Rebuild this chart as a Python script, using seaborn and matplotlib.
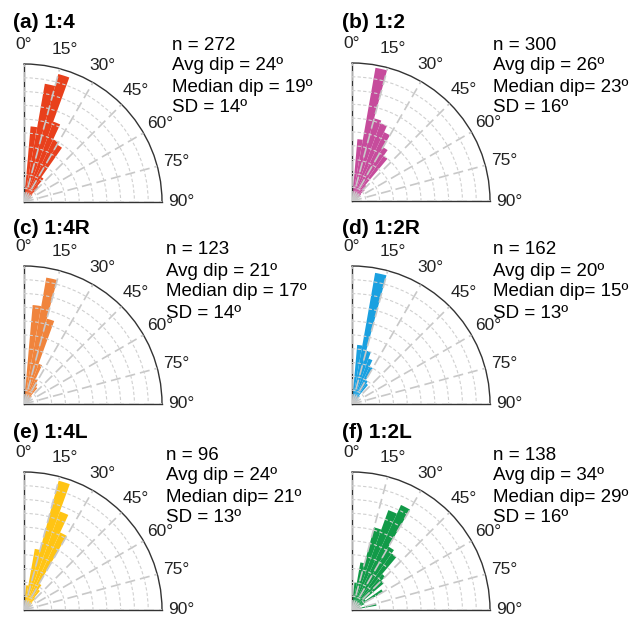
import numpy as np
import matplotlib
matplotlib.use("Agg")
import matplotlib.pyplot as plt
import seaborn as sns

# 5-degree dip bins (start of each bin)
dip_bins = np.arange(0, 90, 5)

# relative bar length per bin (outer arc = 1)
radii_a = [0.12, 0.55, 0.87, 0.96, 0.62, 0.50, 0.48, 0.22, 0.15, 0.08, 0.06, 0.05, 0.04, 0.04, 0.03, 0.03, 0.02, 0.02]
radii_b = [0.10, 0.45, 0.98, 0.62, 0.60, 0.55, 0.45, 0.40, 0.15, 0.12, 0.08, 0.06, 0.05, 0.04, 0.04, 0.03, 0.03, 0.03]
radii_c = [0.08, 0.72, 0.93, 0.64, 0.31, 0.20, 0.17, 0.15, 0.08, 0.06, 0.05, 0.04, 0.04, 0.03, 0.03, 0.02, 0.02, 0.02]
radii_d = [0.08, 0.43, 0.965, 0.40, 0.35, 0.30, 0.20, 0.18, 0.08, 0.06, 0.05, 0.04, 0.04, 0.03, 0.03, 0.02, 0.02, 0.02]
radii_e = [0.10, 0.18, 0.45, 0.97, 0.76, 0.62, 0.22, 0.18, 0.12, 0.08, 0.06, 0.05, 0.04, 0.04, 0.03, 0.03, 0.02, 0.02]
radii_f = [0.05, 0.20, 0.35, 0.62, 0.77, 0.84, 0.53, 0.50, 0.34, 0.30, 0.12, 0.26, 0.10, 0.06, 0.05, 0.18, 0.04, 0.03]

titles = ["(a) 1:4", "(b) 1:2", "(c) 1:4R", "(d) 1:2R", "(e) 1:4L", "(f) 1:2L"]
n_values = [272, 300, 123, 162, 96, 138]
avg_dips = [24, 26, 21, 20, 24, 34]
median_dips = [19, 23, 17, 15, 21, 29]
sd_values = [14, 16, 14, 13, 13, 16]
median_sep = [" = ", "= ", " = ", "= ", "= ", "= "]
colors = ["#E8401C", "#C64C9C", "#F0843C", "#1AA0E0", "#FFC414", "#129A48"]
theta_labels = ["0°", "15°", "30°", "45°", "60°", "75°", "90°"]

sns.set_theme(style="white")
plt.rcParams["font.family"] = ["Liberation Sans", "DejaVu Sans"]

W, H = 639, 617
fig = plt.figure(figsize=(W / 100, H / 100), dpi=100)

# pixel layout: (axes left, axes bottom, title y, text x, first text line y)
layout = [
    (24, 202, 22, 172, 45),
    (352, 201, 22, 493, 45),
    (24, 404, 228, 166, 250),
    (352, 404, 228, 493, 250),
    (24, 610, 433, 166, 455),
    (352, 610, 433, 493, 455),
]
title_x = [13, 342, 13, 342, 13, 342]
size = 138
all_radii = [radii_a, radii_b, radii_c, radii_d, radii_e, radii_f]

for i, radii in enumerate(all_radii):
    left, bottom, ty, tx, ly = layout[i]
    ax = fig.add_axes([left / W, 1 - bottom / H, size / W, size / H], projection="polar")
    ax.set_theta_zero_location("N")
    ax.set_theta_direction(-1)
    ax.set_thetamin(0)
    ax.set_thetamax(90)
    ax.set_ylim(0, 1)
    ax.bar(np.deg2rad(dip_bins + 2.5), radii, width=np.deg2rad(5),
           color=colors[i], edgecolor="none", zorder=1)
    ax.set_axisbelow(False)
    ax.set_xticks(np.deg2rad(np.arange(0, 91, 15)))
    ax.set_xticklabels(theta_labels, fontsize=12.5, color="#222222")
    ax.tick_params(axis="x", pad=1)
    ax.set_yticks(np.arange(0.1, 1.0, 0.1))
    ax.set_yticklabels([])
    ax.xaxis.grid(True, linestyle=(0, (6, 3)), color="#c8c8c8", lw=1.2, zorder=3)
    ax.yaxis.grid(True, linestyle=(0, (3, 2)), color="#d0d0d0", lw=0.8, zorder=3)
    for s in ["polar", "start", "end"]:
        ax.spines[s].set_color("#333333")
        ax.spines[s].set_linewidth(1.0)
    ax.spines["inner"].set_visible(False)

    fig.text(title_x[i] / W, 1 - ty / H, titles[i], fontsize=15,
             fontweight="bold", va="center", ha="left", color="black")
    lines = [f"n = {n_values[i]}",
             f"Avg dip = {avg_dips[i]}º",
             f"Median dip{median_sep[i]}{median_dips[i]}º",
             f"SD = {sd_values[i]}º"]
    for k, txt in enumerate(lines):
        fig.text(tx / W, 1 - (ly + k * 21) / H, txt, fontsize=13.5,
                 va="center", ha="left", color="black")

fig.savefig("out.png", dpi=100)
